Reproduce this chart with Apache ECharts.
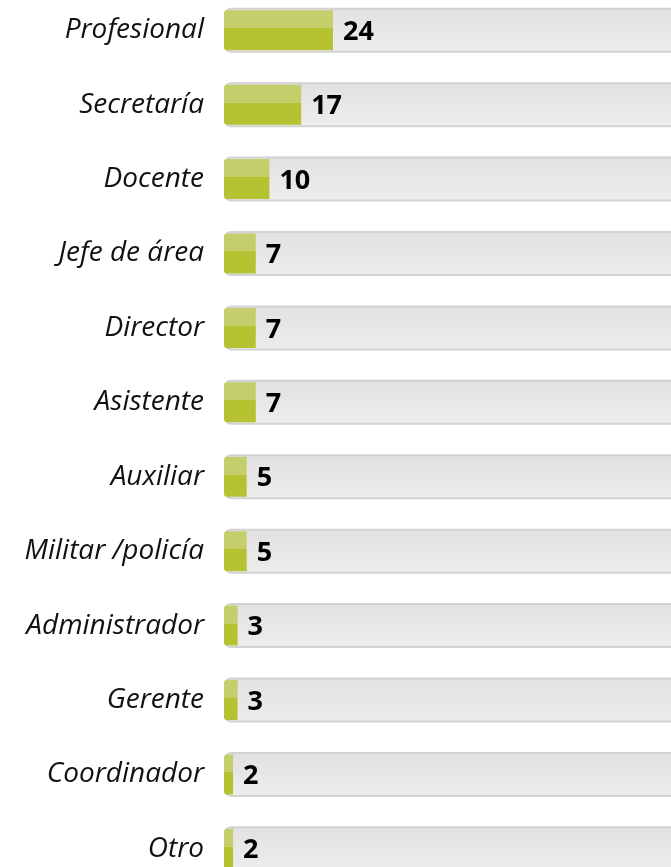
<!DOCTYPE html>
<html><head><meta charset="utf-8">
<script src="https://cdn.jsdelivr.net/npm/echarts@6/dist/echarts.min.js"></script>
<style>html,body{margin:0;padding:0;background:#fff}#c{width:671px;height:867px}</style>
</head><body><div id="c"></div>
<script>
const categories = ["Profesional","Secretaría","Docente","Jefe de área","Director","Asistente","Auxiliar","Militar /policía","Administrador","Gerente","Coordinador","Otro"];
const values = [24,17,10,7,7,7,5,5,3,3,2,2];
const trackMax = 100;

const chart = echarts.init(document.getElementById('c'));
const trackData = categories.map(() => trackMax);
chart.setOption({
  animation: false,
  grid: {left: 224, top: -7, width: 454, height: 893, outerBoundsMode: 'none', containLabel: false},
  xAxis: {type: 'value', min: 0, max: trackMax, show: false},
  yAxis: [
    {type: 'category', data: categories, inverse: true,
     axisLine: {show: false}, axisTick: {show: false},
     axisLabel: {fontFamily: 'Open Sans', fontStyle: 'italic', fontSize: 28, color: '#111', margin: 20}},
    {type: 'category', data: categories, inverse: true, show: false}
  ],
  series: [
    {type: 'bar', yAxisIndex: 0, data: trackData, barWidth: 45, silent: true,
     itemStyle: {
       color: new echarts.graphic.LinearGradient(0,0,0,1,[{offset:0,color:'#e2e1e2'},{offset:1,color:'#ededed'}]),
       borderColor: '#d2d2d2', borderWidth: 2, borderRadius: 6
     }},
    {type: 'bar', yAxisIndex: 1, data: values, barWidth: 40,
     itemStyle: {
       color: new echarts.graphic.LinearGradient(0,0,0,1,[
         {offset:0,color:'#c4cf6c'},{offset:0.45,color:'#c4cf6c'},
         {offset:0.45,color:'#b5c332'},{offset:1,color:'#b5c332'}]),
       borderRadius: [3,0,0,3]
     },
     label: {show: true, position: 'right', distance: 10, fontFamily: 'Open Sans', fontWeight: 'bold', fontSize: 27, color: '#000', offset: [0, 2]}}
  ]
});
</script></body></html>
